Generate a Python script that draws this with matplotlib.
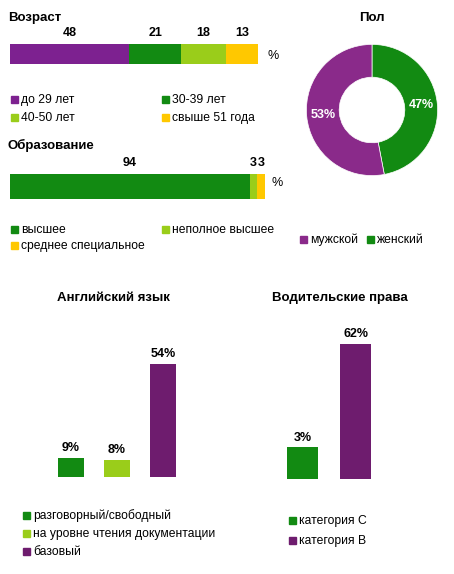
import numpy as np
import matplotlib
matplotlib.use("Agg")
import matplotlib.pyplot as plt
from matplotlib.patches import Rectangle

plt.rcParams["font.family"] = ["Liberation Sans", "DejaVu Sans"]

W, H = 454, 574
PURPLE = "#7D2190"
GREEN = "#128A12"
LGREEN = "#9ACD1A"
YELLOW = "#FFC800"

age_labels = ["до 29 лет", "30-39 лет", "40-50 лет", "свыше 51 года"]
age_vals = [48, 21, 18, 13]
age_colors = [PURPLE, GREEN, LGREEN, YELLOW]

edu_labels = ["высшее", "неполное высшее", "среднее специальное"]
edu_vals = [94, 3, 3]
edu_colors = [GREEN, LGREEN, YELLOW]

sex_labels = ["мужской", "женский"]
sex_vals = [53, 47]

eng_labels = ["разговорный/свободный", "на уровне чтения документации", "базовый"]
eng_vals = [9, 8, 54]
eng_colors = [GREEN, LGREEN, "#6E1C6E"]

drv_labels = ["категория С", "категория В"]
drv_vals = [3, 62]
drv_colors = [GREEN, "#6E1C6E"]

fig = plt.figure(figsize=(W / 100, H / 100), dpi=100)


def ax_px(x0, y0, x1, y1):
    a = fig.add_axes([x0 / W, 1 - y1 / H, (x1 - x0) / W, (y1 - y0) / H])
    a.axis("off")
    return a


def txt(x, y, s, **kw):
    fig.text(x / W, 1 - y / H, s, va="center", **kw)


def legend_item(x, y, color, label):
    fig.patches.append(Rectangle(((x - 3) / W, 1 - (y + 3) / H), 7 / W, 7 / H,
                                 transform=fig.transFigure, color=color))
    txt(x + 7, y, label, fontsize=8.7)


def hbar(ax, vals, colors, label_y):
    left = 0
    for v, c in zip(vals, colors):
        ax.barh(0, v, left=left, color=c, height=1, edgecolor="none")
        ax.text(left + v / 2, label_y, str(v), ha="center", va="center",
                fontsize=9, fontweight="bold")
        left += v
    ax.set_xlim(0, 100)
    ax.set_ylim(-0.5, 0.5)


# Возраст
txt(8, 18, "Возраст", fontsize=9.5, fontweight="bold")
ax = ax_px(10, 44, 258, 64)
hbar(ax, age_vals, age_colors, 1.05)
txt(268, 56, "%", fontsize=9)
for (x, y), c, l in zip([(14, 100), (165, 100), (14, 118), (165, 118)], age_colors, age_labels):
    legend_item(x, y, c, l)

# Образование
txt(8, 145, "Образование", fontsize=9.5, fontweight="bold")
ax = ax_px(10, 174, 265, 199)
hbar(ax, edu_vals, edu_colors, 0.95)
txt(272, 183, "%", fontsize=9)
for (x, y), c, l in zip([(14, 230), (165, 230), (14, 246)], edu_colors, edu_labels):
    legend_item(x, y, c, l)

# Пол
txt(372, 18, "Пол", fontsize=9.5, fontweight="bold", ha="center")
ax = ax_px(290, 28, 454, 192)
ax.pie([sex_vals[1], sex_vals[0]], colors=[GREEN, "#8A2A8A"], startangle=90,
       counterclock=False, radius=1, wedgeprops=dict(width=0.5, edgecolor="white", linewidth=0.5),
       autopct=lambda p: f"{round(p)}%", pctdistance=0.75,
       textprops=dict(color="white", fontsize=9, fontweight="bold"))
ax.set_aspect("equal")
legend_item(303, 240, "#8A2A8A", sex_labels[0])
legend_item(370, 240, GREEN, sex_labels[1])

# Английский язык
txt(113, 298, "Английский язык", fontsize=9.5, fontweight="bold", ha="center")
ax = ax_px(48, 340, 186, 477)
x = np.arange(len(eng_vals))
ax.bar(x, eng_vals, width=0.57, color=eng_colors)
for xi, v in zip(x, eng_vals):
    ax.text(xi, v + 2, f"{v}%", ha="center", va="bottom", fontsize=9, fontweight="bold")
ax.set_xlim(-0.5, 2.5)
ax.set_ylim(0, 65.5)
for y, c, l in zip([516, 534, 552], eng_colors, eng_labels):
    legend_item(26, y, c, l)

# Водительские права
txt(340, 298, "Водительские права", fontsize=9.5, fontweight="bold", ha="center")
ax = ax_px(276, 330, 382, 479)
ymin = -15.3
x = np.arange(len(drv_vals))
ax.bar(x, np.array(drv_vals) - ymin, bottom=ymin, width=0.58, color=drv_colors)
for xi, v in zip(x, drv_vals):
    ax.text(xi, v + 2, f"{v}%", ha="center", va="bottom", fontsize=9, fontweight="bold")
ax.set_xlim(-0.5, 1.5)
ax.set_ylim(ymin, 70)
for y, c, l in zip([521, 541], drv_colors, drv_labels):
    legend_item(292, y, c, l)

fig.savefig("out.png", dpi=100)
